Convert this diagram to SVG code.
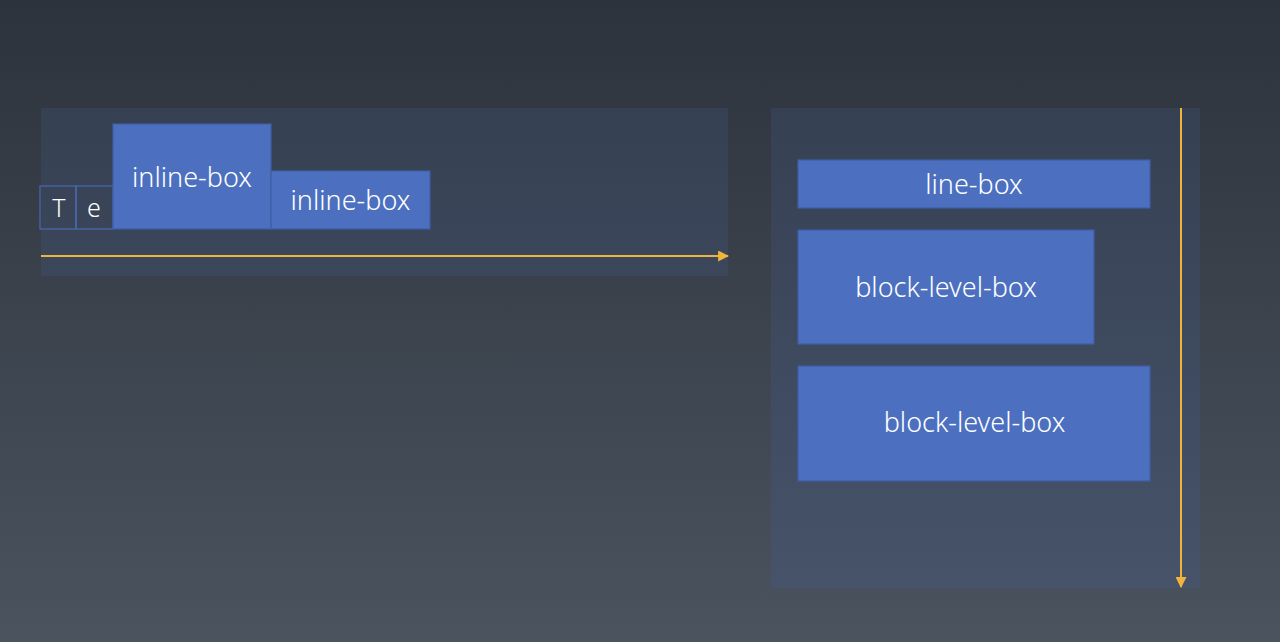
<svg xmlns="http://www.w3.org/2000/svg" width="1280" height="642" viewBox="0 0 1280 642">
<defs>
<linearGradient id="bg" x1="0" y1="0" x2="0" y2="642" gradientUnits="userSpaceOnUse">
<stop offset="0" stop-color="#2d333d"/>
<stop offset="1" stop-color="#4a535e"/>
</linearGradient>
<linearGradient id="panel" x1="0" y1="0" x2="0" y2="642" gradientUnits="userSpaceOnUse">
<stop offset="0" stop-color="#323c4e"/>
<stop offset="1" stop-color="#48556c"/>
</linearGradient>
<marker id="arr" viewBox="0 0 10 10" refX="9" refY="5" markerWidth="5.5" markerHeight="5.5" orient="auto" markerUnits="strokeWidth">
<path d="M0,0 L10,5 L0,10 z" fill="#f0b43a"/>
</marker>
<style>
.panel{fill:url(#panel);}
.box{fill:#4c70bf;stroke:#3f5ea6;stroke-width:1.2;}
.glyph{fill:none;stroke:#4a69b4;stroke-width:1.2;}
.lbl{font-family:"Noto Sans","Open Sans","DejaVu Sans",sans-serif;font-size:27px;font-weight:300;fill:#ffffff;text-anchor:middle;}
.g{font-size:25px;}
.axis{stroke:#f0b43a;stroke-width:2;fill:none;}
</style>
</defs>
<rect width="1280" height="642" fill="url(#bg)"/>
<rect class="panel" x="41" y="108" width="687" height="168"/>
<rect class="panel" x="771" y="108" width="429" height="480"/>
<g id="connectors">
<line class="axis" x1="41" y1="256" x2="728" y2="256" marker-end="url(#arr)"/>
<line class="axis" x1="1181" y1="108" x2="1181" y2="587" marker-end="url(#arr)"/>
</g>
<g id="char-T">
<rect class="glyph" x="40" y="186" width="36" height="43"/>
<text class="lbl g" x="59" y="217">T</text>
</g>
<g id="char-e">
<rect class="glyph" x="76" y="186" width="37" height="43"/>
<text class="lbl g" x="94" y="217">e</text>
</g>
<g id="inline-box-1">
<rect class="box" x="113" y="124" width="158" height="105"/>
<text class="lbl" x="192" y="187">inline-box</text>
</g>
<g id="inline-box-2">
<rect class="box" x="271" y="171" width="159" height="58"/>
<text class="lbl" x="350.5" y="210">inline-box</text>
</g>
<g id="line-box">
<rect class="box" x="798" y="160" width="352" height="48"/>
<text class="lbl" x="974" y="194">line-box</text>
</g>
<g id="block-level-box-1">
<rect class="box" x="798" y="230" width="296" height="114"/>
<text class="lbl" x="946" y="297">block-level-box</text>
</g>
<g id="block-level-box-2">
<rect class="box" x="798" y="366" width="352" height="115"/>
<text class="lbl" x="974.5" y="432">block-level-box</text>
</g>
</svg>
